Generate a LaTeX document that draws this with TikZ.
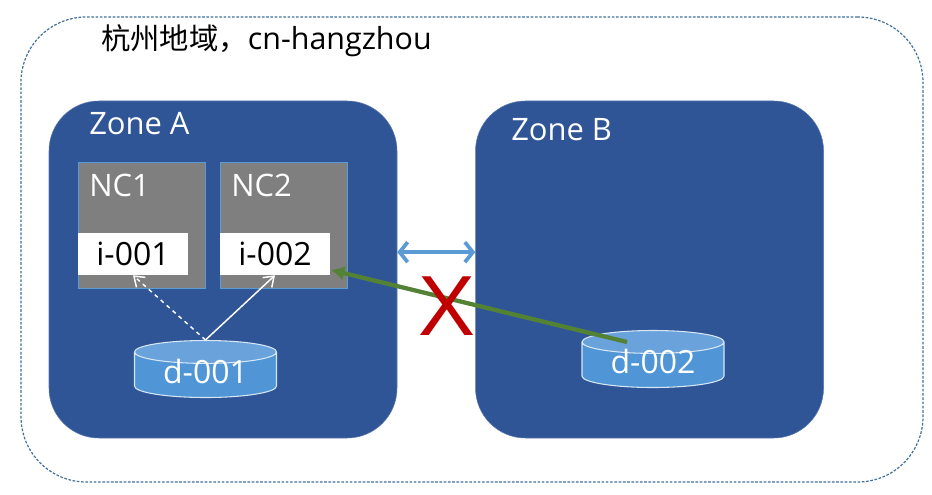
\documentclass[tikz,border=0pt]{standalone}
\usepackage{fontspec}
\setmainfont{Open Sans}
\newfontfamily\cjk{Noto Sans CJK SC}
\newfontfamily\crossfont{Liberation Sans}
\usetikzlibrary{arrows.meta,positioning,shapes.geometric}
\definecolor{zoneblue}{HTML}{2F5597}
\definecolor{edgeblue}{HTML}{5B9BD5}
\definecolor{dashblue}{HTML}{41719C}
\definecolor{ncgray}{HTML}{7F7F7F}
\definecolor{diskfill}{HTML}{5096D6}
\definecolor{disktop}{HTML}{6AA2DC}
\definecolor{linkgreen}{HTML}{548235}
\definecolor{crossred}{HTML}{C00000}
\newcommand{\disktext}[1]{\raisebox{-6pt}[0pt][0pt]{#1}}

\begin{document}
\begin{tikzpicture}[
  x=0.75pt, y=-0.75pt,
  node distance=0.5cm,
  region/.style={draw=dashblue, dash pattern=on 2pt off 1.2pt, line width=0.9pt, rounded corners=49pt, minimum width=676.5pt, minimum height=348.75pt},
  zone/.style={draw=zoneblue!80!white, fill=zoneblue, rounded corners=37.5pt, minimum width=261pt, minimum height=252.75pt},
  nc/.style={draw=edgeblue, fill=ncgray, minimum width=95.25pt, minimum height=94.5pt},
  inst/.style={fill=white, font=\fontsize{24}{26}\selectfont, minimum width=82.5pt, minimum height=31.5pt, inner sep=0pt},
  disk/.style={cylinder, shape border rotate=90, draw=white!75!edgeblue, line width=0.8pt, aspect=0.27,
    cylinder uses custom fill, cylinder body fill=diskfill, cylinder end fill=disktop,
    minimum width=106.5pt, minimum height=42.75pt, inner sep=0pt, text=white, font=\fontsize{24}{26}\selectfont},
  title/.style={text=white, font=\fontsize{23.2}{26}\selectfont, inner sep=0pt, anchor=west},
  link/.style={draw=white, line width=1.1pt, -{Straight Barb[length=7pt,width=10pt]}},
  pass/.style={draw=edgeblue, line width=2.8pt, {Straight Barb[length=6pt,width=15pt]}-{Straight Barb[length=6pt,width=15pt]}},
  block/.style={draw=linkgreen, line width=3.2pt, -{Latex[length=10pt,width=11pt]}}
]
\useasboundingbox (0,0) rectangle (932,495);
\fill[white] (0,0) rectangle (932,495);

\node[region] (hangzhou) at (472,249.5) {};
\node[anchor=west, inner sep=0pt, font=\fontsize{22.8}{26}\selectfont] (regionname) at (101,41) {{\fontsize{22}{26}\selectfont\cjk 杭州地域，}cn-hangzhou};

\node[zone] (zonea) at (223,269.5) {};
\node[zone, right=58.5pt of zonea] (zoneb) {};
\node[title] (zoneaname) at (89,124) {Zone A};
\node[title] (zonebname) at (511,130) {Zone B};

\node[nc] (nc1) at (141.5,225) {};
\node[nc, right=11.25pt of nc1] (nc2) {};
\node[title] (nc1name) at (89,185) {NC1};
\node[title] (nc2name) at (231,185) {NC2};

\node[inst] (i001) at (133,254) {i-001};
\node[inst] (i002) at (275,254) {i-002};

\node[disk] (d001) at (205.5,375) {\disktext{d-001}};
\node[disk] (d002) at (653,365) {\disktext{d-002}};

\coordinate (d2tail) at (627,342);
\coordinate (i2port) at (331,270);

\draw[link, dashed] (d001.north) -- (i001.south);
\draw[link] (d001.north) -- (i002.south);
\draw[pass] ([yshift=13pt]zonea.east) -- ([yshift=13pt]zoneb.west);
\draw[block] (d2tail) -- (i2port);

\node[text=crossred, inner sep=0pt, font=\crossfont\fontsize{64}{66}\selectfont] (cross) at (447,306) {X};

\end{tikzpicture}
\end{document}
